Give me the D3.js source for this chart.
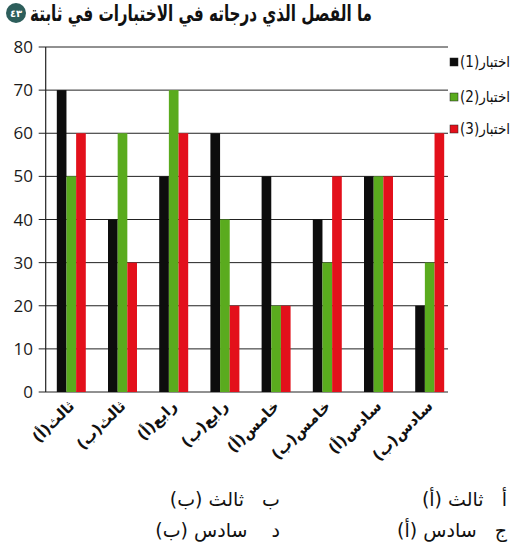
<!DOCTYPE html>
<html><head><meta charset="utf-8">
<script src="https://cdn.jsdelivr.net/npm/d3@7"></script>
<style>body{margin:0;background:#fff}svg{display:block}</style>
</head><body>
<svg id="c" width="512" height="554"></svg>
<script>
const categories = ["ثالث(أ)","ثالث(ب)","رابع(أ)","رابع(ب)","خامس(أ)","خامس(ب)","سادس(أ)","سادس(ب)"];
const test1 = [70,40,50,60,50,40,50,20];
const test2 = [50,60,70,40,20,30,50,30];
const test3 = [60,30,60,20,20,50,50,60];
const seriesNames = ["اختبار(1)","اختبار(2)","اختبار(3)"];
const seriesColors = ["#0d0d0d","#5aab1e","#e3101b"];
const yTicks = [0,10,20,30,40,50,60,70,80];
const title = "ما الفصل الذي درجاته في الاختبارات في ثابتة";
const qNum = "٤٣";
const answers = [
  ["أ   ثالث (أ)", "ب   ثالث (ب)"],
  ["ج   سادس (أ)", "د    سادس (ب)"]
];

const series = [test1, test2, test3];
const svg = d3.select("#c");
const left = 45.7, plotRight = 448;
const x = d3.scaleBand().domain(categories).range([45.7, 455.3]).paddingInner(0.434).paddingOuter(0.217);
const xs = d3.scaleBand().domain(seriesNames).range([0, x.bandwidth()]);
const y = d3.scaleLinear().domain([0, 80]).range([392, 47]);

function squeeze(sel, target) {
  const len = sel.node().getComputedTextLength();
  if (len > target) sel.attr("textLength", target).attr("lengthAdjust", "spacingAndGlyphs");
}

// gridlines
svg.append("g").selectAll("line").data(yTicks).join("line")
  .attr("x1", left - 7).attr("x2", plotRight)
  .attr("y1", d => y(d)).attr("y2", d => y(d))
  .attr("stroke", "#222").attr("stroke-width", 1);
// y axis
svg.append("line").attr("x1", left).attr("x2", left).attr("y1", y(80)).attr("y2", y(0))
  .attr("stroke", "#222").attr("stroke-width", 1.2);
svg.append("g").selectAll("text").data(yTicks).join("text")
  .attr("x", 33).attr("y", d => y(d)).attr("dy", "0.36em")
  .attr("text-anchor", "end").attr("font-family", "Open Sans, DejaVu Sans, sans-serif")
  .attr("font-size", 17).attr("fill", "#1a1a1a").text(d => d);

// bars
series.forEach((vals, si) => {
  svg.append("g").selectAll("rect").data(vals).join("rect")
    .attr("x", (d, i) => x(categories[i]) + xs(seriesNames[si]))
    .attr("width", xs.bandwidth())
    .attr("y", d => y(d)).attr("height", d => y(0) - y(d))
    .attr("fill", seriesColors[si]);
});

// x labels
svg.append("g").selectAll("text").data(categories).join("text")
  .attr("transform", d => `translate(${x(d) + x.bandwidth()/2 + 4},${407}) rotate(-45)`)
  .attr("text-anchor", "end")
  .attr("font-family", "DejaVu Sans, sans-serif").attr("font-weight", "bold")
  .attr("font-size", 15).attr("fill", "#111").text(d => d);

// legend
const legY = [62, 97, 129];
seriesNames.forEach((n, i) => {
  svg.append("rect").attr("x", 450).attr("y", legY[i] - 4).attr("width", 8).attr("height", 8)
    .attr("fill", seriesColors[i]).attr("stroke", "#222").attr("stroke-width", 0.5);
  svg.append("text").attr("x", 460).attr("y", legY[i]).attr("dy", "0.36em")
    .attr("direction", "rtl").attr("text-anchor", "end")
    .attr("font-family", "DejaVu Sans Condensed, DejaVu Sans, sans-serif").attr("font-size", 15).attr("fill", "#111")
    .text(n);
});

// title
svg.append("circle").attr("cx", 16).attr("cy", 13).attr("r", 10).attr("fill", "#2d5e5b");
svg.append("text").attr("x", 16).attr("y", 13).attr("dy", "0.36em").attr("text-anchor", "middle")
  .attr("font-family", "DejaVu Sans, sans-serif").attr("font-weight", "bold").attr("font-size", 10)
  .attr("fill", "#fff").text(qNum);
const t = svg.append("text").attr("x", 372).attr("y", 21).attr("direction", "rtl").attr("text-anchor", "start")
  .attr("font-family", "DejaVu Sans Condensed, DejaVu Sans, sans-serif").attr("font-weight", "bold").attr("font-size", 22)
  .attr("fill", "#111").text(title);
squeeze(t, 342);

// answers
const ansY = [506, 537], ansX = [507, 280];
answers.forEach((row, r) => row.forEach((txt, c) => {
  svg.append("text").attr("x", ansX[c]).attr("y", ansY[r])
    .attr("direction", "rtl").attr("text-anchor", "start").attr("xml:space", "preserve")
    .style("white-space", "pre")
    .attr("font-family", "DejaVu Sans, sans-serif").attr("font-size", 19).attr("fill", "#111")
    .text(txt);
}));
</script>
</body></html>
